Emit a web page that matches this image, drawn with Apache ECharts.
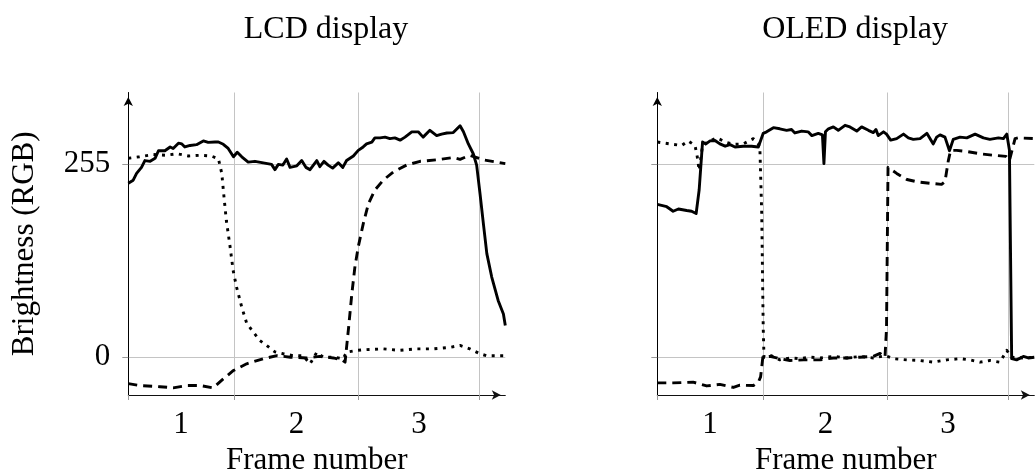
<!DOCTYPE html>
<html>
<head>
<meta charset="utf-8">
<script src="https://cdn.jsdelivr.net/npm/echarts@6/dist/echarts.min.js"></script>
<style>
  html, body { margin: 0; padding: 0; background: #fff; }
  #chart { width: 1035px; height: 471px; }
</style>
</head>
<body>
<div id="chart"></div>
<script>
  // x = sample index (0..100), y = brightness
  var frameBounds = [0, 28, 61.1, 93.2];
  var frameCenters = [14, 44.6, 77.1];
  var frameLabels = ['1', '2', '3'];
  var yTicks = [0, 255];

  var lcdSolid = [
    [0, 230], [1.3, 234], [2.2, 243], [3.5, 251], [4.4, 260], [5.8, 259], [7.1, 263], [8, 273], [9.7, 273],
    [11.1, 278], [11.9, 276], [13.3, 283], [14.2, 282], [15, 278], [16.4, 280], [18.1, 281], [19.9, 286],
    [21.2, 284], [23, 284.5], [23.9, 284.5], [25.2, 281.5], [26.5, 276], [27.9, 265], [28.9, 271], [30.1, 265],
    [31.8, 258], [33.6, 259], [35.8, 257], [38, 255], [38.9, 248], [39.8, 255], [41, 254], [42, 262], [42.9, 251],
    [44.7, 253], [46, 260], [47.1, 251], [48.2, 248], [50, 260], [50.8, 252], [51.9, 259], [53, 254], [54.2, 250],
    [55.7, 257], [56.9, 251], [57.9, 260], [59.7, 266], [61, 273.5], [62.3, 278], [63.2, 282], [64.6, 284.5],
    [65.4, 290], [66.8, 290], [68.1, 291], [69.4, 289], [70.7, 290], [72.1, 287], [73.4, 291], [75.2, 298],
    [76.9, 298], [78.2, 291], [80, 300], [81.8, 293], [83.1, 295], [84.5, 296.5], [86.2, 297], [88, 306],
    [88.9, 298], [90.2, 282], [91.5, 269], [92.4, 254], [93.3, 216], [94.2, 176], [95.1, 137], [96.4, 106],
    [98.1, 75], [99.5, 57], [100, 42]
  ];
  var lcdDotted = [
    [0, 263], [3, 265], [6.5, 268], [10, 267], [13, 269], [16, 266], [19, 267], [22, 266], [23.9, 262.5],
    [24.8, 243], [25.3, 216], [26, 181], [27, 146], [27.8, 115], [28.7, 93], [30.1, 66], [31.4, 45], [33.2, 33],
    [34.9, 22], [36.7, 15.5], [38.9, 7], [41.1, 4.5], [43.8, 2], [46.4, 2], [48.2, -9], [50, 6.6], [51.7, 0],
    [54.4, 0], [57, -2], [57.9, 6.6], [60.6, 9], [63.2, 10], [67.6, 11], [72, 9], [76.5, 11], [81, 11],
    [85.3, 13], [88, 15.5], [90.6, 11], [93.3, 4.5], [95, 2], [100, 2]
  ];
  var lcdDashed = [
    [0, -35], [3.1, -37.5], [8.4, -39], [11.9, -40.5], [15.5, -37.5], [19, -37.5], [22.5, -40.5], [25.2, -28.6],
    [27.9, -17.6], [31.4, -8.7], [35.8, -2], [39.4, 2], [43, 0], [47.3, -1], [50.8, 1], [54.4, -1], [56.6, -3.5],
    [57.5, -6.6], [58.4, 37.5], [59.3, 84], [60.1, 119], [61, 146], [62.3, 176], [63.7, 203], [65.4, 221],
    [67.6, 234], [70.3, 245], [73.8, 254], [77.4, 259], [81.8, 261], [86.2, 264], [88, 261.6], [90.6, 267],
    [94.2, 261], [100, 256]
  ];

  var oledSolid = [
    [0, 202], [2.5, 199], [4.2, 193], [5.6, 196], [7.8, 194], [9.1, 193], [10.3, 190], [11.1, 221], [12, 284.5],
    [12.9, 282], [14, 286], [15.3, 286.6], [16.6, 282], [18, 279], [19.3, 281], [20.6, 278], [22.8, 279], [25, 279],
    [26.8, 278], [28.1, 296], [29, 298], [30.8, 303.5], [32.5, 302], [34.3, 300], [35.6, 301], [36.5, 296.5],
    [38.3, 299], [40, 298], [41, 293], [42.7, 296], [43.8, 294], [44.2, 256], [44.6, 298], [45.4, 302],
    [46.7, 304.5], [48, 300], [49.8, 306.6], [51.1, 304.5], [52.9, 299], [54.2, 304.5], [56, 300], [57.3, 297],
    [58, 301], [58.6, 293], [60, 298], [60.8, 295], [61.9, 287], [63.5, 289], [65.3, 295], [66.6, 290], [67.9, 288],
    [69.7, 289], [71.5, 296], [73.2, 282], [74.1, 291], [75, 294], [76.3, 291], [77.5, 273], [78.5, 288],
    [80.3, 291], [82.1, 290], [84.3, 295], [86.5, 290], [88.2, 288], [90.5, 290], [91.8, 289], [92.7, 295],
    [93.4, 274], [94, -2], [95.3, -3.5], [97.1, 1], [98.4, -1], [100, 0]
  ];
  var oledDotted = [
    [0, 284.5], [3.4, 282], [6.5, 280], [8.2, 286], [10, 280], [10.6, 265], [11.1, 247], [12, 280], [13.5, 285],
    [15.8, 290], [18.1, 284.5], [20.2, 281.5], [22.8, 282], [25.5, 289], [26.8, 282], [27.2, 278], [27.7, 190],
    [28.1, 38], [28.3, 0], [29, 0], [30.3, 2], [32.5, -3.5], [35.2, -1], [37.9, -2], [40.5, 0], [43.2, -1],
    [46.7, 1], [50.3, -1], [53.8, 1], [57.3, -1], [60.6, 2], [62.6, -2], [66.2, -3.5], [69.7, -4.4], [73.2, -6.6],
    [76.8, -3.5], [80.3, -2], [82.9, -3.5], [85.6, -6.6], [88.2, -4.4], [90.9, -6.6], [92.7, 9], [94, 0],
    [97, -1], [100, 0]
  ];
  var oledDashed = [
    [0, -34], [4.2, -34], [9.5, -33], [13.1, -38], [16.6, -36], [20.2, -40], [21.9, -37], [25.5, -37.5],
    [26.8, -33], [27.4, -26], [28, 0], [29.9, 1], [32.5, -2], [35.2, -4.4], [38.8, -3.5], [43.2, -3.5],
    [46.7, -1], [50.3, -1], [53.8, 0], [57.3, 1], [59.1, 5], [60.4, 0], [60.8, 38], [61.2, 251], [63.5, 243],
    [66.2, 235], [68.8, 232], [72.3, 230], [75.4, 228.5], [76.3, 232], [77.2, 260], [77.8, 273.5], [79.4, 273.5],
    [82.1, 272], [85.6, 269], [89.1, 267], [92.5, 265.6], [93.4, 260], [94.9, 289], [95.7, 290], [100, 289]
  ];

  var font = 'Liberation Serif';
  var gridColor = '#c4c4c4';
  var tickColor = '#999';

  var chartDom = document.getElementById('chart');
  var myChart = echarts.init(chartDom);
  var option;

  function xAxis(g) {
    return {
      type: 'value',
      gridIndex: g,
      min: 0,
      max: 100,
      name: 'Frame number',
      nameLocation: 'middle',
      nameGap: 47,
      nameTextStyle: { fontFamily: font, fontSize: 31, color: '#000' },
      axisLine: {
        show: true,
        onZero: false,
        symbol: ['none', 'arrow'],
        symbolSize: [7, 9],
        symbolOffset: [0, -4.5],
        lineStyle: { color: '#111', width: 1 }
      },
      axisTick: { show: true, customValues: frameBounds, length: 5, lineStyle: { color: tickColor } },
      axisLabel: {
        customValues: frameCenters,
        margin: 14,
        fontFamily: font,
        fontSize: 31,
        color: '#000',
        formatter: function (v) {
          var best = 0;
          for (var k = 1; k < frameCenters.length; k++) {
            if (Math.abs(frameCenters[k] - v) < Math.abs(frameCenters[best] - v)) best = k;
          }
          return frameLabels[best];
        }
      },
      splitLine: { show: true, lineStyle: { color: gridColor, width: 1 } }
    };
  }

  function yAxis(g) {
    return {
      type: 'value',
      gridIndex: g,
      min: -50,
      max: 350,
      name: g === 0 ? 'Brightness (RGB)' : '',
      nameLocation: 'middle',
      nameRotate: 90,
      nameGap: 88,
      nameTextStyle: { fontFamily: font, fontSize: 31, color: '#000' },
      axisLine: {
        show: true,
        onZero: false,
        symbol: ['none', 'arrow'],
        symbolSize: [7, 9],
        symbolOffset: [0, -4.5],
        lineStyle: { color: '#000', width: 1 }
      },
      axisTick: { show: true, customValues: yTicks, length: 6, lineStyle: { color: tickColor } },
      axisLabel: {
        show: g === 0,
        customValues: yTicks,
        margin: 18,
        fontFamily: font,
        fontSize: 31,
        color: '#000'
      },
      splitLine: { show: true, lineStyle: { color: gridColor, width: 1 } }
    };
  }

  function line(data, g, dash) {
    return {
      type: 'line',
      xAxisIndex: g,
      yAxisIndex: g,
      data: data,
      symbol: 'none',
      silent: true,
      animation: false,
      lineStyle: { color: '#000', width: 2.9, type: dash, cap: 'butt', join: 'round' }
    };
  }

  option = {
    animation: false,
    backgroundColor: '#fff',
    title: [
      { text: 'LCD display', left: 321, top: 9, textAlign: 'center',
        textStyle: { fontFamily: font, fontSize: 32, fontWeight: 'normal', color: '#000' } },
      { text: 'OLED display', left: 850, top: 9, textAlign: 'center',
        textStyle: { fontFamily: font, fontSize: 32, fontWeight: 'normal', color: '#000' } }
    ],
    grid: [
      { left: 128.3, top: 92.5, width: 377, height: 302.5, outerBoundsMode: 'none' },
      { left: 657.3, top: 92.5, width: 377, height: 302.5, outerBoundsMode: 'none' }
    ],
    xAxis: [xAxis(0), xAxis(1)],
    yAxis: [yAxis(0), yAxis(1)],
    series: [
      line(lcdSolid, 0, 'solid'),
      line(lcdDashed, 0, [9, 6]),
      line(lcdDotted, 0, [3, 5.5]),
      line(oledSolid, 1, 'solid'),
      line(oledDashed, 1, [9, 6]),
      line(oledDotted, 1, [3, 5.5])
    ]
  };
  option && myChart.setOption(option);
</script>
</body>
</html>
